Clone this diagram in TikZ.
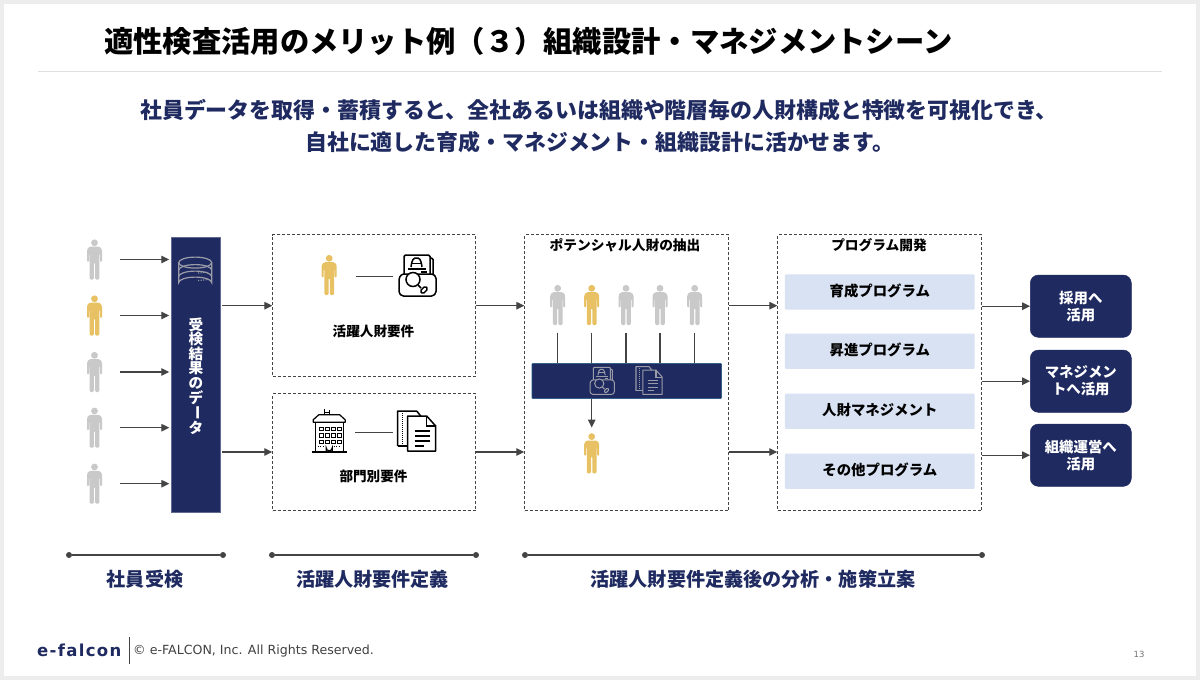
\documentclass[tikz,border=0pt]{standalone}
\usepackage{fontspec}
\setmainfont{Noto Sans CJK JP}
\newfontfamily\latinfont{DejaVu Sans}
\usetikzlibrary{arrows.meta,calc}
\definecolor{navy}{HTML}{1F2A60}
\definecolor{pgray}{HTML}{C9C9C9}
\definecolor{gold}{HTML}{E7C163}
\definecolor{lblue}{HTML}{D9E2F3}
\definecolor{ink}{HTML}{444444}
\definecolor{framegray}{HTML}{EDEDED}
\definecolor{icongray}{HTML}{9A9CA8}
\newcommand{\fsz}[2]{\fontsize{#1}{#2}\selectfont}
\tikzset{
  x=1pt,y=-1pt,
  arr/.style={draw=ink,line width=1.2pt,-{Triangle[length=8pt,width=7.5pt]}},
  plain/.style={draw=ink,line width=1.2pt},
  dashbox/.style={draw=ink,line width=0.9pt,dash pattern=on 3pt off 2pt,inner sep=0pt,anchor=north west},
  persona/.style={inner sep=0pt,minimum width=15pt,minimum height=40pt},
  lab/.style={font=\bfseries\fsz{13.6}{15},text=black,inner sep=0pt},
  prog/.style={fill=lblue,rounded corners=1pt,minimum width=189.7pt,minimum height=35.3pt,inner sep=0pt,text depth=4pt,font=\bfseries\fsz{14.4}{16},text=black},
  pill/.style={fill=navy,draw=navy,rounded corners=8pt,minimum width=101pt,minimum height=62.3pt,inner sep=0pt,align=center,font=\bfseries\fsz{14.4}{17},text=white},
  dotn/.style={circle,fill=ink,inner sep=0pt,minimum size=6pt},
  phase/.style={font=\bfseries\fsz{19.1}{21},text=navy,inner sep=0pt},
  vchar/.style={inner sep=0pt,text=white,font=\bfseries\fsz{14.6}{15}},
}
\newcommand{\person}[4]{% name, x, y, colour
  \node[persona] (#1) at (#2,#3) {};
  \begin{scope}[shift={(#2,#3)}]
    \fill[#4] (0,-16.7) circle (3.4);
    \fill[#4,rounded corners=1.2pt] (-5.2,-12.8) -- (5.2,-12.8) -- (7.5,-10) -- (7.5,2.5) -- (5.5,2.5) -- (5.5,-6) -- (4.9,-6) -- (4.9,20) -- (0.6,20) -- (0.6,3) -- (-0.6,3) -- (-0.6,20) -- (-4.9,20) -- (-4.9,-6) -- (-5.5,-6) -- (-5.5,2.5) -- (-7.5,2.5) -- (-7.5,-10) -- cycle;
  \end{scope}}
\newcommand{\docsearch}[5]{% x, y, scale, colour, background
  \begin{scope}[shift={(#1,#2)},scale=#3,line width=#3*1.5pt,draw=#4,rounded corners=#3*1.5pt]
    \draw (31,4) -- (34,4) -- (34,20);
    \draw[fill=#5] (5,20) -- (5,1) -- (31,1) -- (31,20);
    \draw (12,13) .. controls (13,5) and (15,4) .. (17.5,4) .. controls (20,4) and (22,5) .. (23,13);
    \draw (12,9.5) -- (23,9.5);
    \draw (9,15) -- (27,15);
    \draw (22,18) -- (28,18);
    \draw[fill=#5] (0,24) -- (0,39) -- (3,42) -- (34,42) -- (37,39) -- (37,23) -- (34,20) -- (3,20) -- cycle;
    \draw[fill=#5] (14,25.5) circle (7);
    \draw[rounded corners=0pt,line width=#3*1.5pt] (19,31) -- (22,34);
    \draw[rotate around={45:(25,36)}] (21.5,34) rectangle (28.5,38);
  \end{scope}}
\newcommand{\docs}[5]{% x, y, scale, colour, background
  \begin{scope}[shift={(#1,#2)},scale=#3,line width=#3*1.5pt,draw=#4]
    \draw[line join=round,fill=#5] (0,35) -- (0,0) -- (19,0) -- (23,5);
    \draw[dash pattern=on 1pt off 1pt,line width=#3*1.2pt] (4.5,2) -- (4.5,34);
    \draw (0,35) -- (10,35);
    \draw[line join=round,fill=#5] (10,5) -- (29,5) -- (38,15) -- (38,40) -- (10,40) -- cycle;
    \draw (29,5) -- (29,15) -- (38,15);
    \draw (17,20) -- (32,20) (17,25) -- (32,25) (17,30) -- (32,30) (17,35) -- (26,35);
  \end{scope}}
\begin{document}
\begin{tikzpicture}
\useasboundingbox (0,0) rectangle (1200,680);
\fill[framegray] (0,0) rectangle (1200,680);
\fill[white] (4,4) rectangle (1196,676);

% header
\node[inner sep=0pt,anchor=west,font=\bfseries\fsz{29.3}{31},text=black] (title) at (104,41) {適性検査活用のメリット例（３）組織設計・マネジメントシーン};
\coordinate (ruleL) at (38,71); \coordinate (ruleR) at (1162,71);
\draw[draw=black!12,line width=1pt] (ruleL) -- (ruleR);
\node[inner sep=0pt,anchor=west,font=\bfseries\fsz{21.9}{24},text=navy] (sub1) at (140,110) {社員データを取得・蓄積すると、全社あるいは組織や階層毎の人財構成と特徴を可視化でき、};
\node[inner sep=0pt,anchor=west,font=\bfseries\fsz{21.9}{24},text=navy] (sub2) at (305,142) {自社に適した育成・マネジメント・組織設計に活かせます。};

% employees
\person{p1}{94.5}{259.5}{pgray}
\person{p2}{94.5}{315.5}{gold}
\person{p3}{94.5}{372}{pgray}
\person{p4}{94.5}{427.7}{pgray}
\person{p5}{94.5}{483.7}{pgray}

% data column
\node[fill=navy,draw=navy!70!white,line width=0.6pt,inner sep=0pt,minimum width=49.6pt,minimum height=275pt,anchor=north west] (db) at (170.7,237) {};
\begin{scope}[shift={(195.2,272.6)},draw=icongray,line width=1.2pt]
  \draw (-16.5,-10) -- (-16.5,10) arc[start angle=180,end angle=360,x radius=16.5,y radius=5.5] -- (16.5,-10);
  \draw (0,-10) ellipse [x radius=16.5,y radius=5.5];
  \draw (-16.5,-2.5) arc[start angle=180,end angle=360,x radius=16.5,y radius=5.5];
  \draw (-16.5,4) arc[start angle=180,end angle=360,x radius=16.5,y radius=5.5];
  \draw[dash pattern=on 1pt off 1.5pt] (3,0.5) -- (13,-0.5) (3,8) -- (13,7);
\end{scope}
\node[vchar] (v1) at (196,324.5) {受};
\node[vchar] (v2) at (196,339.2) {検};
\node[vchar] (v3) at (196,353.9) {結};
\node[vchar] (v4) at (196,368.6) {果};
\node[vchar] (v5) at (196,383.3) {の};
\node[vchar] (v6) at (196,398) {デ};
\node[vchar,rotate=-90] (v7) at (196,412.7) {ー};
\node[vchar] (v8) at (196,427.4) {タ};

\foreach \n in {1,...,5}
  \draw[arr,shorten <=18pt,shorten >=1.4pt] (p\n.east) -- (p\n.east -| db.west);

% requirement boxes
\node[dashbox,minimum width=203pt,minimum height=141.7pt] (box1) at (272.3,234.3) {};
\node[dashbox,minimum width=203pt,minimum height=117pt] (box2) at (272.3,393.3) {};
\coordinate (dbA) at (222,305.7);
\coordinate (dbB) at (222,452);
\draw[arr] (dbA) -- (dbA -| box1.west);
\draw[arr] (dbB) -- (dbB -| box2.west);
\person{g1}{329.2}{275}{gold}
\docsearch{399}{254}{1}{black}{white}
\coordinate (i1) at (392.7,276.3);
\draw[plain] ($(g1.east |- i1)+(19,0)$) -- (i1);
\node[lab] (l1) at (373.5,331) {活躍人財要件};
% building
\begin{scope}[shift={(311.7,409.3)},line width=1.2pt,draw=black]
  \draw (3.5,13) -- (3.5,42) (31.5,13) -- (31.5,42);
  \draw[line width=1.5pt] (0,42.5) -- (35,42.5);
  \draw[line join=round] (1.5,13) -- (1.5,10.5) -- (7,5.5) -- (28,5.5) -- (33.5,10.5) -- (33.5,13) -- cycle;
  \draw (13,0) -- (13,5.5) (18,1) -- (18,5.5) (13,3) -- (18,3);
  \foreach \cx in {8,14,20,26} \foreach \cy in {18,24.5,31}
    \draw[line width=0.7pt] (\cx,\cy) rectangle +(3.5,3.5);
  \draw (14.5,42) -- (14.5,38.5) arc[start angle=180,end angle=0,radius=3] -- (20.5,42);
  \draw[dash pattern=on 1pt off 1.5pt,line width=0.7pt] (6,37) -- (13,37) (22,37) -- (29,37);
\end{scope}
\docs{397.7}{411}{1}{black}{white}
\coordinate (b1) at (355.3,432.7);
\coordinate (b2) at (392.7,432.7);
\draw[plain] (b1) -- (b2);
\node[lab] (l2) at (373.5,476) {部門別要件};

% talent extraction
\node[dashbox,minimum width=204pt,minimum height=276pt] (box3) at (524.3,234.3) {};
\node[lab,font=\bfseries\fsz{13.7}{15}] (t3) at (625,245) {ポテンシャル人財の抽出};
\coordinate (m1) at (524.3,305.7);
\coordinate (m2) at (524.3,452);
\draw[arr] (m1 -| box1.east) -- (m1);
\draw[arr] (m2 -| box2.east) -- (m2);
\person{q1}{557.7}{305}{pgray}
\person{q2}{591.7}{305}{gold}
\person{q3}{626}{305}{pgray}
\person{q4}{660}{305}{pgray}
\person{q5}{694.7}{305}{pgray}
\node[fill=navy,draw=navy!80!cyan,line width=0.6pt,rounded corners=1pt,inner sep=0pt,minimum width=189.6pt,minimum height=35.3pt,anchor=north west] (bar) at (531.7,363) {};
\foreach \n in {1,...,5}
  \draw[plain,shorten <=7.3pt] (q\n.south) -- (q\n.south |- bar.north);
\docsearch{590}{366.7}{0.66}{icongray}{navy}
\docs{636}{366.7}{0.69}{icongray}{navy}
\person{r1}{591.7}{453.3}{gold}
\draw[arr,shorten >=5.6pt] (r1.north |- bar.south) -- (r1.north);

% programmes
\node[dashbox,minimum width=204pt,minimum height=276pt] (box4) at (777.3,234.3) {};
\node[lab,font=\bfseries\fsz{13.7}{15}] (t4) at (879,245) {プログラム開発};
\draw[arr] (box3.east |- m1) -- (box4.west |- m1);
\draw[arr] (box3.east |- m2) -- (box4.west |- m2);
\node[prog] (c1) at (879.8,292) {育成プログラム};
\node[prog] (c2) at (879.8,351.3) {昇進プログラム};
\node[prog] (c3) at (879.8,411.3) {人財マネジメント};
\node[prog] (c4) at (879.8,471.2) {その他プログラム};

% outcomes
\node[pill] (o1) at (1080.8,306.2) {採用へ\\活用};
\node[pill] (o2) at (1080.8,381.2) {マネジメン\\トへ活用};
\node[pill] (o3) at (1080.8,455.2) {組織運営へ\\活用};
\draw[arr] (box4.east |- o1) -- (o1.west);
\draw[arr] (box4.east |- o2) -- (o2.west);
\draw[arr] (box4.east |- o3) -- (o3.west);

% phases
\node[dotn] (a1) at (69,555) {}; \node[dotn] (a2) at (223,555) {};
\node[dotn] (b3) at (272,555) {}; \node[dotn] (b4) at (476,555) {};
\node[dotn] (c5) at (525,555) {}; \node[dotn] (c6) at (982,555) {};
\draw[plain] (a1) -- (a2);
\draw[plain] (b3) -- (b4);
\draw[plain] (c5) -- (c6);
\node[phase] (ph1) at (145,579) {社員受検};
\node[phase] (ph2) at (372.5,579) {活躍人財要件定義};
\node[phase] (ph3) at (753,579) {活躍人財要件定義後の分析・施策立案};

% footer
\node[inner sep=0pt,anchor=west,font=\latinfont\bfseries\fsz{16.5}{18},text=navy] (logo) at (37,650) {\addfontfeature{LetterSpace=8}e-falcon};
\coordinate (fa) at (129.5,637); \coordinate (fb) at (129.5,664);
\draw[draw=ink,line width=1pt] (fa) -- (fb);
\node[inner sep=0pt,anchor=west,font=\latinfont\fsz{12.6}{14},text=black!75] (copy) at (133,651) {© e-FALCON, Inc. All Rights Reserved.};
\node[inner sep=0pt,font=\latinfont\fsz{8.5}{10},text=black!55] (page) at (1139,654) {13};
\end{tikzpicture}
\end{document}
